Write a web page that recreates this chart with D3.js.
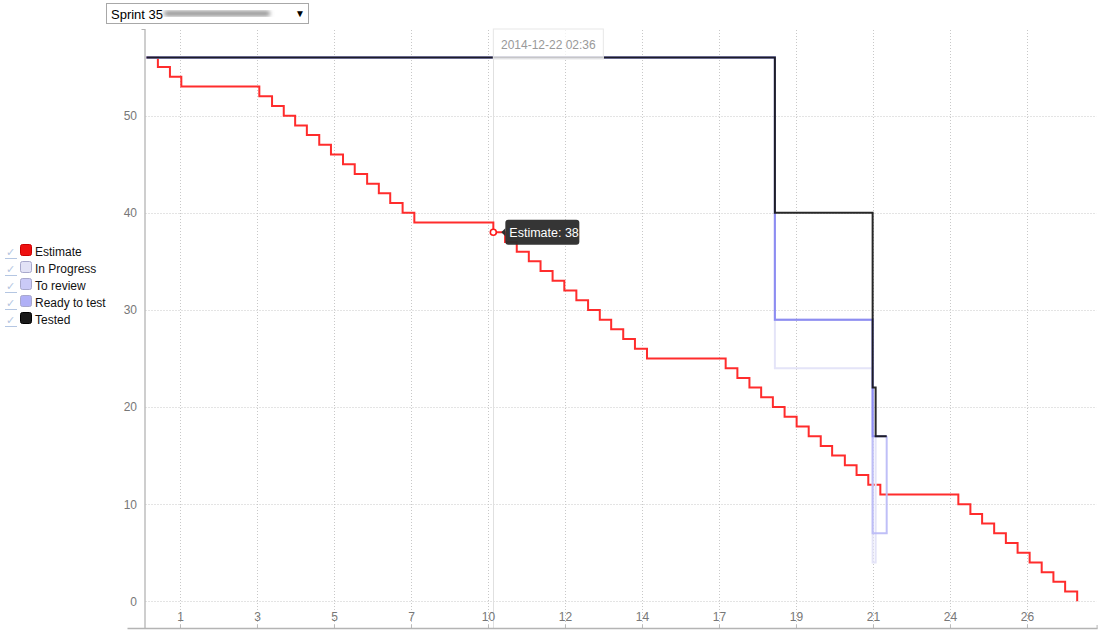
<!DOCTYPE html>
<html>
<head>
<meta charset="utf-8">
<script src="https://cdn.jsdelivr.net/npm/d3@7"></script>
<style>
  html, body { margin: 0; padding: 0; background: #fff; }
  svg { display: block; font-family: "Liberation Sans", Arial, sans-serif; }
</style>
</head>
<body>
<svg id="chart" width="1116" height="640"></svg>
<script>
// ---------- DATA (x in sprint days, y in remaining items) ----------
const seriesNames = ["Estimate", "In Progress", "To review", "Ready to test", "Tested"];
const seriesColors = ["#ff1a1a", "#e4e4f8", "#b8b8f6", "#8a8af0", "#111111"];
const swatchColors = ["#ee1111", "#e2e2f6", "#cacaf7", "#b0b0f6", "#1a1a1a"];

const estimateX = [0, 0.34, 0.70, 1.04, 3.37, 3.75, 4.10, 4.44, 4.79, 5.16, 5.51, 5.87, 6.22, 6.59, 6.94, 7.28, 7.65, 8.00,
  10.36, 10.71, 11.06, 11.42, 11.77, 12.13, 12.48, 12.84, 13.19, 13.54, 13.88, 14.24, 14.59, 14.95,
  17.30, 17.65, 18.01, 18.36, 18.71, 19.06, 19.42, 19.78, 20.14, 20.48, 20.86, 21.21, 21.56, 21.92,
  24.25, 24.61, 24.96, 25.32, 25.67, 26.02, 26.38, 26.74, 27.09, 27.44, 27.80];
const estimateY = [56, 55, 54, 53, 52, 51, 50, 49, 48, 47, 46, 45, 44, 43, 42, 41, 40, 39,
  38, 37, 36, 35, 34, 33, 32, 31, 30, 29, 28, 27, 26, 25,
  24, 23, 22, 21, 20, 19, 18, 17, 16, 15, 14, 13, 12, 11,
  10, 9, 8, 7, 6, 5, 4, 3, 2, 1, 0];

const inProgressX = [0, 18.77, 21.69, 21.78];
const inProgressY = [56, 24, 4, 17];
const toReviewX = [0, 18.77, 21.69, 22.11];
const toReviewY = [56, 29, 7, 17];
const readyToTestX = [0, 18.77, 21.69, 22.11];
const readyToTestY = [56, 29, 17, 17];
const testedX = [0, 18.77, 21.69, 21.78, 22.11];
const testedY = [56, 40, 22, 17, 17];

const xTickValues = [1, 3.3, 5.6, 7.9, 10.2, 12.5, 14.8, 17.1, 19.4, 21.7, 24.0, 26.3];
const xTickLabels = ["1", "3", "5", "7", "10", "12", "14", "17", "19", "21", "24", "26"];
const yTickValues = [0, 10, 20, 30, 40, 50];

const hoverX = 10.36, hoverY = 38;
const hoverDateLabel = "2014-12-22 02:36";
const tooltipText = "Estimate: 38";
const sprintLabel = "Sprint 35";

// ---------- SCALES ----------
const svg = d3.select("#chart");
const L = 145.5, R = 1096.6, T = 30, B = 628;
const x = d3.scaleLinear().domain([-0.03, 28.38]).range([L, R]);
const y = d3.scaleLinear().domain([-2.75, 58.82]).range([B, T]);

// ---------- GRID ----------
const grid = svg.append("g");
grid.selectAll("line.gx").data(xTickValues).enter().append("line")
  .attr("x1", d => Math.round(x(d)) + 0.5).attr("x2", d => Math.round(x(d)) + 0.5)
  .attr("y1", T).attr("y2", B)
  .attr("stroke", "#c8c8c8").attr("stroke-dasharray", "1,2");
grid.selectAll("line.gy").data(yTickValues).enter().append("line")
  .attr("x1", L).attr("x2", R)
  .attr("y1", d => Math.round(y(d)) + 0.5).attr("y2", d => Math.round(y(d)) + 0.5)
  .attr("stroke", "#c8c8c8").attr("stroke-dasharray", "1,2");

// hover line
svg.append("line")
  .attr("x1", Math.round(x(hoverX)) + 0.5).attr("x2", Math.round(x(hoverX)) + 0.5)
  .attr("y1", T).attr("y2", B).attr("stroke", "#e0e0e0").attr("stroke-width", 1);

// ---------- AXES ----------
const xAxis = d3.axisBottom(x).tickValues(xTickValues).tickSize(3)
  .tickFormat((d, i) => xTickLabels[i]);
const gx = svg.append("g").attr("transform", `translate(0,${B - 3})`).call(xAxis);
gx.select(".domain").remove();
gx.selectAll(".tick line").attr("stroke", "#bbb");
gx.selectAll(".tick text").attr("y", -8).attr("dy", "0.32em")
  .attr("fill", "#777").attr("font-size", 12).attr("font-family", "Liberation Sans, Arial, sans-serif");

const yAxis = d3.axisLeft(y).tickValues(yTickValues).tickSize(0).tickPadding(8);
const gy = svg.append("g").attr("transform", `translate(${L - 0.5},0)`).call(yAxis);
gy.select(".domain").remove();
gy.selectAll(".tick text").attr("fill", "#777").attr("font-size", 12)
  .attr("font-family", "Liberation Sans, Arial, sans-serif");

// axis lines
svg.append("line").attr("x1", L - 0.5).attr("x2", L - 0.5).attr("y1", T - 1).attr("y2", B + 0.5)
  .attr("stroke", "#b4b4b4").attr("stroke-width", 1.3);
svg.append("line").attr("x1", L - 4).attr("x2", L - 0.5).attr("y1", T - 0.5).attr("y2", T - 0.5)
  .attr("stroke", "#b4b4b4");
svg.append("line").attr("x1", L - 18).attr("x2", R + 1).attr("y1", B + 0.5).attr("y2", B + 0.5)
  .attr("stroke", "#b4b4b4").attr("stroke-width", 1.3);
svg.append("line").attr("x1", R + 0.5).attr("x2", R + 0.5).attr("y1", B - 3).attr("y2", B + 0.5)
  .attr("stroke", "#b4b4b4");

// ---------- SERIES ----------
const zip = (xs, ys) => xs.map((v, i) => [v, ys[i]]);
const series = [
  zip(estimateX, estimateY),
  zip(inProgressX, inProgressY),
  zip(toReviewX, toReviewY),
  zip(readyToTestX, readyToTestY),
  zip(testedX, testedY)
];
const opac = [0.92, 1, 0.9, 0.95, 0.9];
const line = d3.line().x(d => x(d[0])).y(d => y(d[1])).curve(d3.curveStepAfter);
svg.append("g").selectAll("path").data(series).enter().append("path")
  .attr("d", line)
  .attr("fill", "none")
  .attr("stroke", (d, i) => seriesColors[i])
  .attr("stroke-opacity", (d, i) => opac[i])
  .attr("stroke-width", 2)
  .attr("stroke-linejoin", "miter");

// ---------- HOVER DATE LABEL ----------
const hx = x(hoverX);
svg.append("rect").attr("x", hx).attr("y", T - 1).attr("width", 110).attr("height", 30)
  .attr("fill", "#fff").attr("fill-opacity", 0.75)
  .attr("stroke", "#e8e8e8");
svg.append("text").attr("x", hx + 55).attr("y", 49).attr("text-anchor", "middle")
  .attr("fill", "#999").attr("font-size", 12).text(hoverDateLabel);

// ---------- TOOLTIP ----------
const cx = x(hoverX), cy = y(hoverY);
svg.append("circle").attr("cx", cx).attr("cy", cy).attr("r", 3)
  .attr("fill", "#fff").attr("stroke", "#ff1a1a").attr("stroke-width", 1.6);
const tg = svg.append("g");
tg.append("path").attr("d", `M${cx + 8},${cy} L${cx + 12},${cy - 4} L${cx + 12},${cy + 4} Z`).attr("fill", "#2e2e2e");
tg.append("rect").attr("x", cx + 12).attr("y", cy - 12.5).attr("width", 74).attr("height", 25).attr("rx", 3)
  .attr("fill", "#2e2e2e").attr("fill-opacity", 0.97);
tg.append("text").attr("x", cx + 16).attr("y", cy + 4.5).attr("fill", "#fff").attr("font-size", 12.5)
  .text(tooltipText);

// ---------- LEGEND ----------
const lg = svg.append("g").attr("transform", "translate(0,245)");
const rows = lg.selectAll("g").data(seriesNames).enter().append("g")
  .attr("transform", (d, i) => `translate(0,${i * 17})`);
rows.append("text").attr("x", 6).attr("y", 11).attr("fill", "#b4c6e2").attr("font-size", 11)
  .attr("font-family", "DejaVu Sans, sans-serif").text("\u2713");
rows.append("line").attr("x1", 5).attr("x2", 17).attr("y1", 13.5).attr("y2", 13.5)
  .attr("stroke", "#b4c6e2").attr("stroke-width", 1);
rows.append("rect").attr("x", 20.5).attr("y", -0.5).attr("width", 11).attr("height", 11).attr("rx", 2)
  .attr("fill", (d, i) => swatchColors[i])
  .attr("stroke", (d, i) => i === 0 ? "#c00" : (i === 4 ? "#000" : "#a8a8cc")).attr("stroke-width", 1);
rows.append("text").attr("x", 35).attr("y", 11).attr("fill", "#111").attr("font-size", 12).text(d => d);

// ---------- SPRINT SELECT ----------
const defs = svg.append("defs");
defs.append("filter").attr("id", "blur").append("feGaussianBlur").attr("stdDeviation", 2.2);
svg.append("rect").attr("x", 106.5).attr("y", 3.5).attr("width", 202).attr("height", 20)
  .attr("fill", "#fff").attr("stroke", "#a8a8a8");
svg.append("text").attr("x", 111).attr("y", 18.5).attr("fill", "#000").attr("font-size", 13).text(sprintLabel);
svg.append("rect").attr("x", 164).attr("y", 11).attr("width", 106).attr("height", 5).attr("rx", 2)
  .attr("fill", "#8a8a8a").attr("filter", "url(#blur)");
svg.append("text").attr("x", 295).attr("y", 17).attr("fill", "#000").attr("font-size", 10).text("\u25BC");
</script>
</body>
</html>
